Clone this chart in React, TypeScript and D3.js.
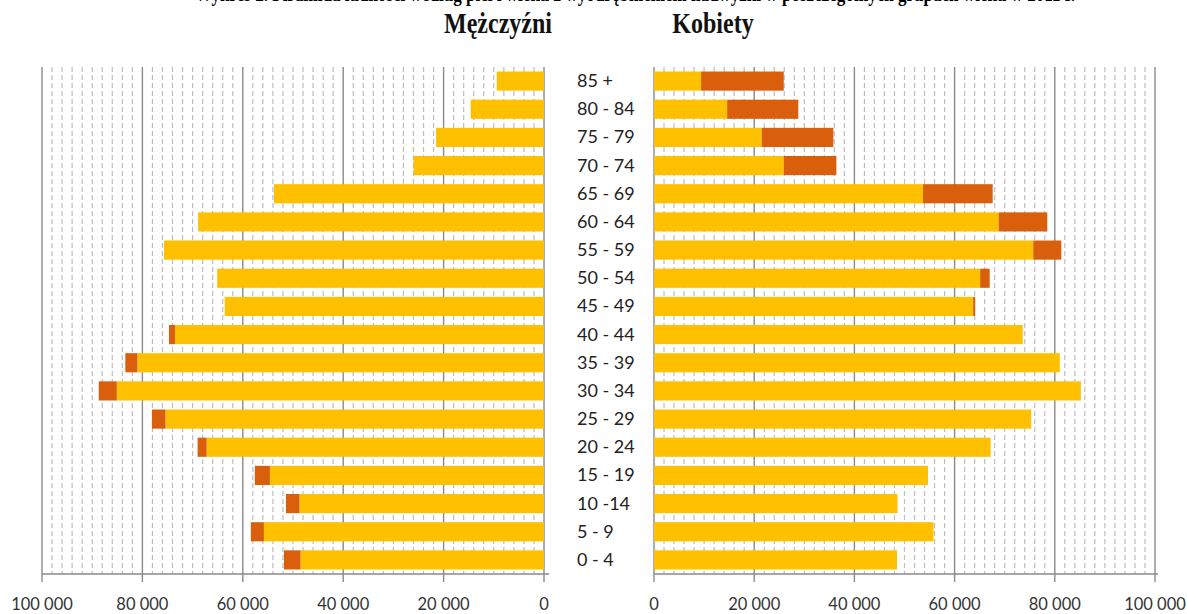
import React from 'react';
import * as d3 from 'd3';

// age groups, top to bottom
const ageGroups = [
  '85 +', '80 - 84', '75 - 79', '70 - 74', '65 - 69', '60 - 64', '55 - 59', '50 - 54', '45 - 49',
  '40 - 44', '35 - 39', '30 - 34', '25 - 29', '20 - 24', '15 - 19', '10 -14', '5 - 9', '0 - 4',
];

// men: common part (yellow) and surplus (orange)
const menBase = [9400, 14600, 21500, 26000, 53800, 68900, 75700, 65100, 63600, 73500, 81000, 85100, 75400, 67200, 54600, 48700, 55800, 48500];
const menSurplus = [0, 0, 0, 0, 0, 0, 0, 0, 0, 1200, 2400, 3600, 2700, 1800, 3000, 2700, 2600, 3300];

// women: common part (yellow) and surplus (orange)
const womenBase = [9400, 14600, 21500, 25900, 53700, 68800, 75700, 65100, 63700, 73600, 81000, 85200, 75300, 67200, 54700, 48600, 55800, 48500];
const womenSurplus = [16500, 14200, 14300, 10500, 13900, 9700, 5600, 1900, 400, 0, 0, 0, 0, 0, 0, 0, 0, 0];

const axisTicks = [0, 20000, 40000, 60000, 80000, 100000];

const title = 'Wykres 2. Piramida ludności według płci i wieku z wyodrębnieniem nadwyżki w poszczególnych grupach wieku w 2011 r.';

const W = 1187;
const H = 614;
const yellow = '#FFC000';
const orange = '#DA5F0D';
const fmt = d3.formatLocale({ decimal: ',', thousands: ' ', grouping: [3], currency: ['', ''] }).format(',');

export default function App() {
  const top = 67;
  const axisY = 574;
  const xLeft = d3.scaleLinear().domain([0, 100000]).range([544, 42]);
  const xRight = d3.scaleLinear().domain([0, 100000]).range([654, 1155]);
  const y = d3.scaleBand<string>().domain(ageGroups).range([top, axisY]).paddingInner(0.32).paddingOuter(0.16);
  const minor = d3.range(0, 100001, 2000).filter((v) => v % 20000 !== 0);

  const grid = (x: d3.ScaleLinear<number, number>, key: string) => (
    <g key={key}>
      {minor.map((v) => (
        <line key={'m' + v} x1={x(v)} x2={x(v)} y1={top} y2={axisY} stroke="#bdbdbd" strokeWidth={1.2} strokeDasharray="5,3" />
      ))}
      {axisTicks.map((v) => (
        <line key={'M' + v} x1={x(v)} x2={x(v)} y1={top} y2={axisY + 8} stroke="#8a8a8a" strokeWidth={1.4} />
      ))}
    </g>
  );

  const tickLabels = (x: d3.ScaleLinear<number, number>, key: string) => (
    <g key={key} fontFamily="Lato, 'Open Sans', sans-serif" fontSize={16.5} fill="#333" textAnchor="middle">
      {axisTicks.map((v) => (
        <text key={v} x={x(v)} y={610}>{fmt(v)}</text>
      ))}
    </g>
  );

  return (
    <svg width={W} height={H} style={{ position: 'absolute', left: 0, top: 0, background: '#fff' }}>
      <text
        x={635}
        y={1}
        textAnchor="middle"
        fontFamily="'Liberation Serif', 'Times New Roman', serif"
        fontWeight="bold"
        fontSize={22}
        textLength={880}
        lengthAdjust="spacingAndGlyphs"
      >
        {title}
      </text>
      <g fontFamily="'Liberation Serif', 'Times New Roman', serif" fontWeight="bold" fontSize={24} fill="#111" textAnchor="middle">
        <text transform="translate(498,33) scale(1,1.22)">Mężczyźni</text>
        <text transform="translate(713,33) scale(1,1.22)">Kobiety</text>
      </g>

      {grid(xLeft, 'gl')}
      {grid(xRight, 'gr')}

      {/* axis lines */}
      <line x1={42} x2={549} y1={axisY} y2={axisY} stroke="#8a8a8a" strokeWidth={1.4} />
      <line x1={654} x2={1158} y1={axisY} y2={axisY} stroke="#8a8a8a" strokeWidth={1.4} />

      {/* men bars */}
      {ageGroups.map((g, i) => (
        <g key={'men' + g}>
          <rect x={xLeft(menBase[i])} y={y(g)} width={xLeft(0) - xLeft(menBase[i])} height={y.bandwidth()} fill={yellow} />
          {menSurplus[i] > 0 && (
            <rect
              x={xLeft(menBase[i] + menSurplus[i])}
              y={y(g)}
              width={xLeft(menBase[i]) - xLeft(menBase[i] + menSurplus[i])}
              height={y.bandwidth()}
              fill={orange}
            />
          )}
        </g>
      ))}

      {/* women bars */}
      {ageGroups.map((g, i) => (
        <g key={'women' + g}>
          <rect x={xRight(0)} y={y(g)} width={xRight(womenBase[i]) - xRight(0)} height={y.bandwidth()} fill={yellow} />
          {womenSurplus[i] > 0 && (
            <rect
              x={xRight(womenBase[i])}
              y={y(g)}
              width={xRight(womenBase[i] + womenSurplus[i]) - xRight(womenBase[i])}
              height={y.bandwidth()}
              fill={orange}
            />
          )}
        </g>
      ))}

      {/* age labels */}
      <g fontFamily="Lato, 'Open Sans', sans-serif" fontSize={18} fill="#222">
        {ageGroups.map((g) => (
          <text key={'lab' + g} x={577} y={(y(g) as number) + y.bandwidth() / 2 + 6}>{g}</text>
        ))}
      </g>

      {tickLabels(xLeft, 'tl')}
      {tickLabels(xRight, 'tr')}
    </svg>
  );
}
